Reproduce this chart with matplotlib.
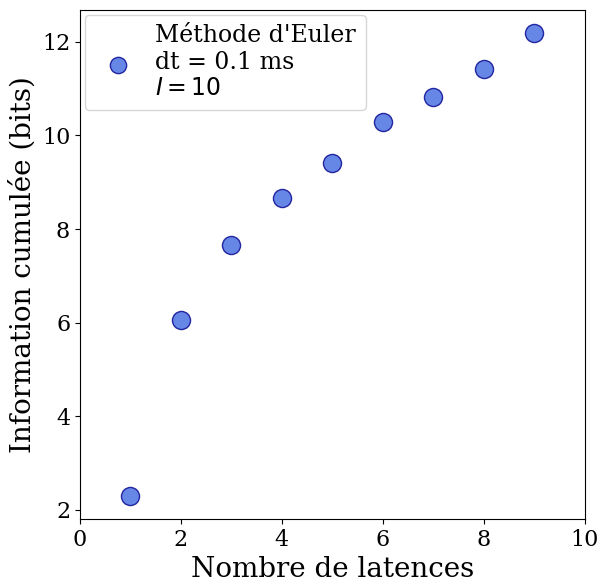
import numpy as np
import matplotlib
matplotlib.use('agg')
import matplotlib.pyplot as plt

plt.rcParams['font.family'] = 'DejaVu Serif'

latences = [1, 2, 3, 4, 5, 6, 7, 8, 9]
information = [2.30, 6.06, 7.67, 8.67, 9.41, 10.28, 10.83, 11.43, 12.19]

fig = plt.figure(figsize=(6.01, 5.78), dpi=100)
ax = fig.add_axes([0.133, 0.102, 0.840, 0.881])
ax.scatter(latences, information, s=170, color='royalblue', alpha=0.8,
           edgecolor='darkblue', linewidth=1,
           label="Méthode d'Euler\ndt = 0.1 ms\n$I = 10$")
ax.set_xlim(0, 10)
ax.set_xlabel('Nombre de latences', fontsize=20)
ax.set_ylabel('Information cumulée (bits)', fontsize=20)
ax.tick_params(labelsize=16)
ax.legend(fontsize=17, loc='upper left', markerscale=0.9, borderaxespad=0.2,
          handletextpad=0.6)
fig.savefig('out.png')
